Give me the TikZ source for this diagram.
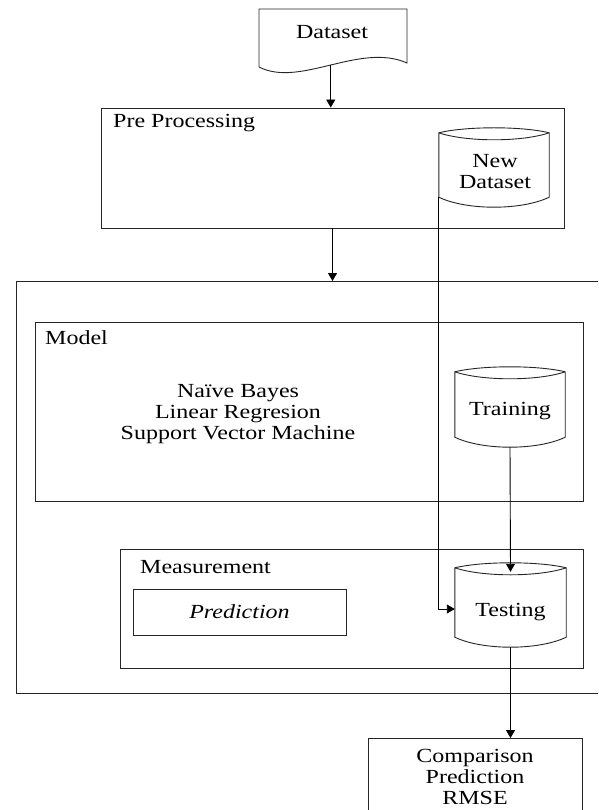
\documentclass[tikz,border=0pt]{standalone}
\usepackage{fontspec}
\setmainfont[FakeStretch=1.2]{Liberation Serif}
\usetikzlibrary{arrows.meta,calc}

\tikzset{
  box/.style={draw=black!85, line width=0.9pt},
  frame/.style={box, rectangle, inner sep=0pt},
  ghost/.style={rectangle, inner sep=0pt},
  txt/.style={inner sep=0pt, font=\fontsize{20}{21}\selectfont, align=center},
  link/.style={draw=black, line width=0.9pt},
  arr/.style={link, -{Triangle[length=8pt,width=9pt]}},
}

% outline of a drum (database) around a named node
\newcommand\drumoutline[1]{%
  \draw[box] let \p1=(#1.north west), \p2=(#1.south east), \n1={\x2-\x1} in
    (\x1,\y1-5) .. controls (\x1+0.25*\n1,\y1+1.67) and (\x2-0.25*\n1,\y1+1.67) .. (\x2,\y1-5)
    -- (\x2,\y2+10) .. controls (\x2-0.25*\n1,\y2-3.33) and (\x1+0.25*\n1,\y2-3.33) .. (\x1,\y2+10)
    -- cycle
    (\x1,\y1-5) .. controls (\x1+0.25*\n1,\y1-14.33) and (\x2-0.25*\n1,\y1-14.33) .. (\x2,\y1-5);
}

\begin{document}
\begin{tikzpicture}[x=1pt, y=-1pt]
\useasboundingbox (0,0) rectangle (598,810);
\fill[white] (0,0) rectangle (598,810);

% input document
\draw[box] (259,67) -- (259,9) -- (407,9) -- (407,63)
  .. controls (360,42) and (300,88) .. (259,67)
  coordinate[pos=0.5] (dsout);
\node[txt] (ds) at (332,32) {Dataset};

% pre processing stage
\node[frame, minimum width=463pt, minimum height=120pt] (pre) at (332.5,168) {};
\node[txt, anchor=base west] (prelbl) at (113,128) {Pre Processing};
\node[ghost, minimum width=110pt, minimum height=79pt] (newds) at (494,167.5) {};
\drumoutline{newds}
\node[txt] (newdstxt) at (495,172) {New\\Dataset};

% outer frame, open to the right
\coordinate (outnw) at (16,281);
\coordinate (outsw) at (16,693);
\draw[box] (598,281) -- (outnw) -- (outsw) -- (598,693);

% model block
\node[frame, minimum width=548pt, minimum height=179pt] (model) at (309,411.5) {};
\node[txt, anchor=base west] (modellbl) at (45,344) {Model};
\node[txt] (algos) at (238,414) {Naïve Bayes\\Linear Regresion\\Support Vector Machine};
\node[ghost, minimum width=110pt, minimum height=80pt] (train) at (510,407) {};
\drumoutline{train}
\node[txt] (traintxt) at (510,411) {Training};

% measurement block
\node[frame, minimum width=463pt, minimum height=119pt] (meas) at (351.5,608.5) {};
\node[txt, anchor=base west] (measlbl) at (140,573) {Measurement};
\node[frame, minimum width=213pt, minimum height=46pt] (pred) at (239.5,612) {};
\node[txt, font=\fontsize{20}{21}\selectfont\itshape] (predtxt) at (239.5,612) {Prediction};
\node[ghost, minimum width=111pt, minimum height=84pt] (test) at (510.5,605) {};
\drumoutline{test}
\node[txt] (testtxt) at (510.5,612) {Testing};

% result box, open at the bottom
\coordinate (resnw) at (368,738);
\draw[box] (368,815) -- (resnw) -- (582,738) -- (582,815);
\node[txt] (result) at (475,777) {Comparison\\Prediction\\RMSE};

% connectors
\draw[arr] (dsout) -- (dsout |- pre.north);
\draw[arr] (pre.south) -- (pre.south |- outnw);
\draw[arr] ([yshift=10pt]newds.south west) |- ([yshift=-4pt]test.west);
\draw[arr] (train.south) -- ([yshift=-9pt]test.north);
\draw[arr] (test.south) -- (test.south |- resnw);
\end{tikzpicture}
\end{document}
